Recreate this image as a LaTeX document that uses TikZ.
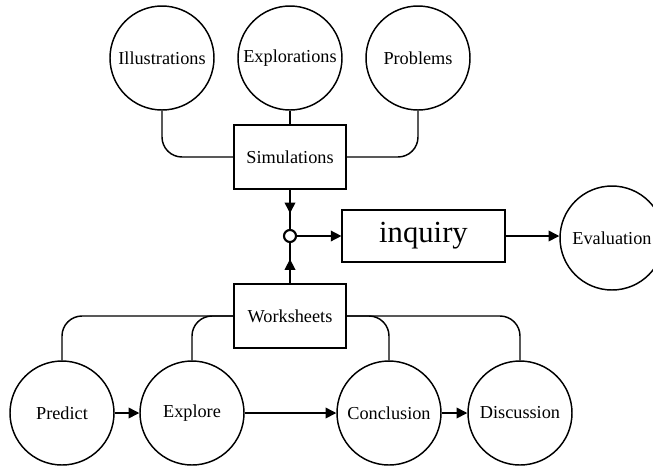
\documentclass[tikz,border=0pt]{standalone}
\usepackage{fontspec}
\setmainfont{Liberation Serif}
\usetikzlibrary{positioning,arrows.meta,decorations.markings}
\tikzstyle{topic}    = [circle, draw=black, line width=1.1pt, minimum size=78pt, inner sep=0pt]
\tikzstyle{hub}      = [rectangle, draw=black, line width=1.1pt, minimum width=84pt, minimum height=48pt]
\tikzstyle{arrow}    = [line width=1.1pt,-{Triangle[length=8pt,width=8pt]}]
\tikzstyle{midarrow} = [line width=1.1pt, postaction={decorate},
                        decoration={markings, mark=at position 0.6 with {\arrow{Triangle[length=8pt,width=8pt]}}}]

\begin{document}
\begin{tikzpicture}[x=0.75pt, y=-0.75pt, font=\fontsize{13.7}{16}\selectfont,
			link/.style={line width=1.1pt, rounded corners=15pt}]
		\useasboundingbox (0,0) rectangle (653,465);

		% simulations part
		\node[topic] (illus) at (162,58) {Illustrations};
		\node[topic] (explor) at (290,58) {Explorations};
		\node[topic] (probl) at (418,58) {Problems};
		\node[hub] (sim) at (290,157) {Simulations};

		\draw[link] (illus.south) |- (sim.west);
		\draw[link] (explor.south) -- (sim.north);
		\draw[link] (probl.south) |- (sim.east);

		% junction and inquiry
		\node[circle, draw=black, line width=1.6pt, minimum size=9pt, inner sep=0pt] (junc) at (290,236) {};
		\node[hub, minimum width=122pt, minimum height=39pt, font=\fontsize{23}{26}\selectfont] (inq) at (423.5,236) {inquiry};
		\node[topic] (eval) at (612,238) {Evaluation};

		% worksheets part
		\node[hub] (work) at (290,316) {Worksheets};
		\node[topic] (pred) at (62,413) {Predict};
		\node[topic] (expl) at (192,413) {Explore};
		\node[topic] (concl) at (389,413) {Conclusion};
		\node[topic] (disc) at (520,413) {Discussion};

		\draw[link] (pred.north) |- (work.west);
		\draw[link] (expl.north) |- (work.west);
		\draw[link] (concl.north) |- (work.east);
		\draw[link] (disc.north) |- (work.east);

		\draw[midarrow] (sim.south) -- (junc.north);
		\draw[midarrow] (work.north) -- (junc.south);
		\draw[arrow] (junc.east) -- (inq.west);
		\draw[arrow] (inq.east) -- (inq.east -| eval.west);

		\draw[arrow] (pred.east) -- (expl.west);
		\draw[arrow] (expl.east) -- (concl.west);
		\draw[arrow] (concl.east) -- (disc.west);
	\end{tikzpicture}
\end{document}
